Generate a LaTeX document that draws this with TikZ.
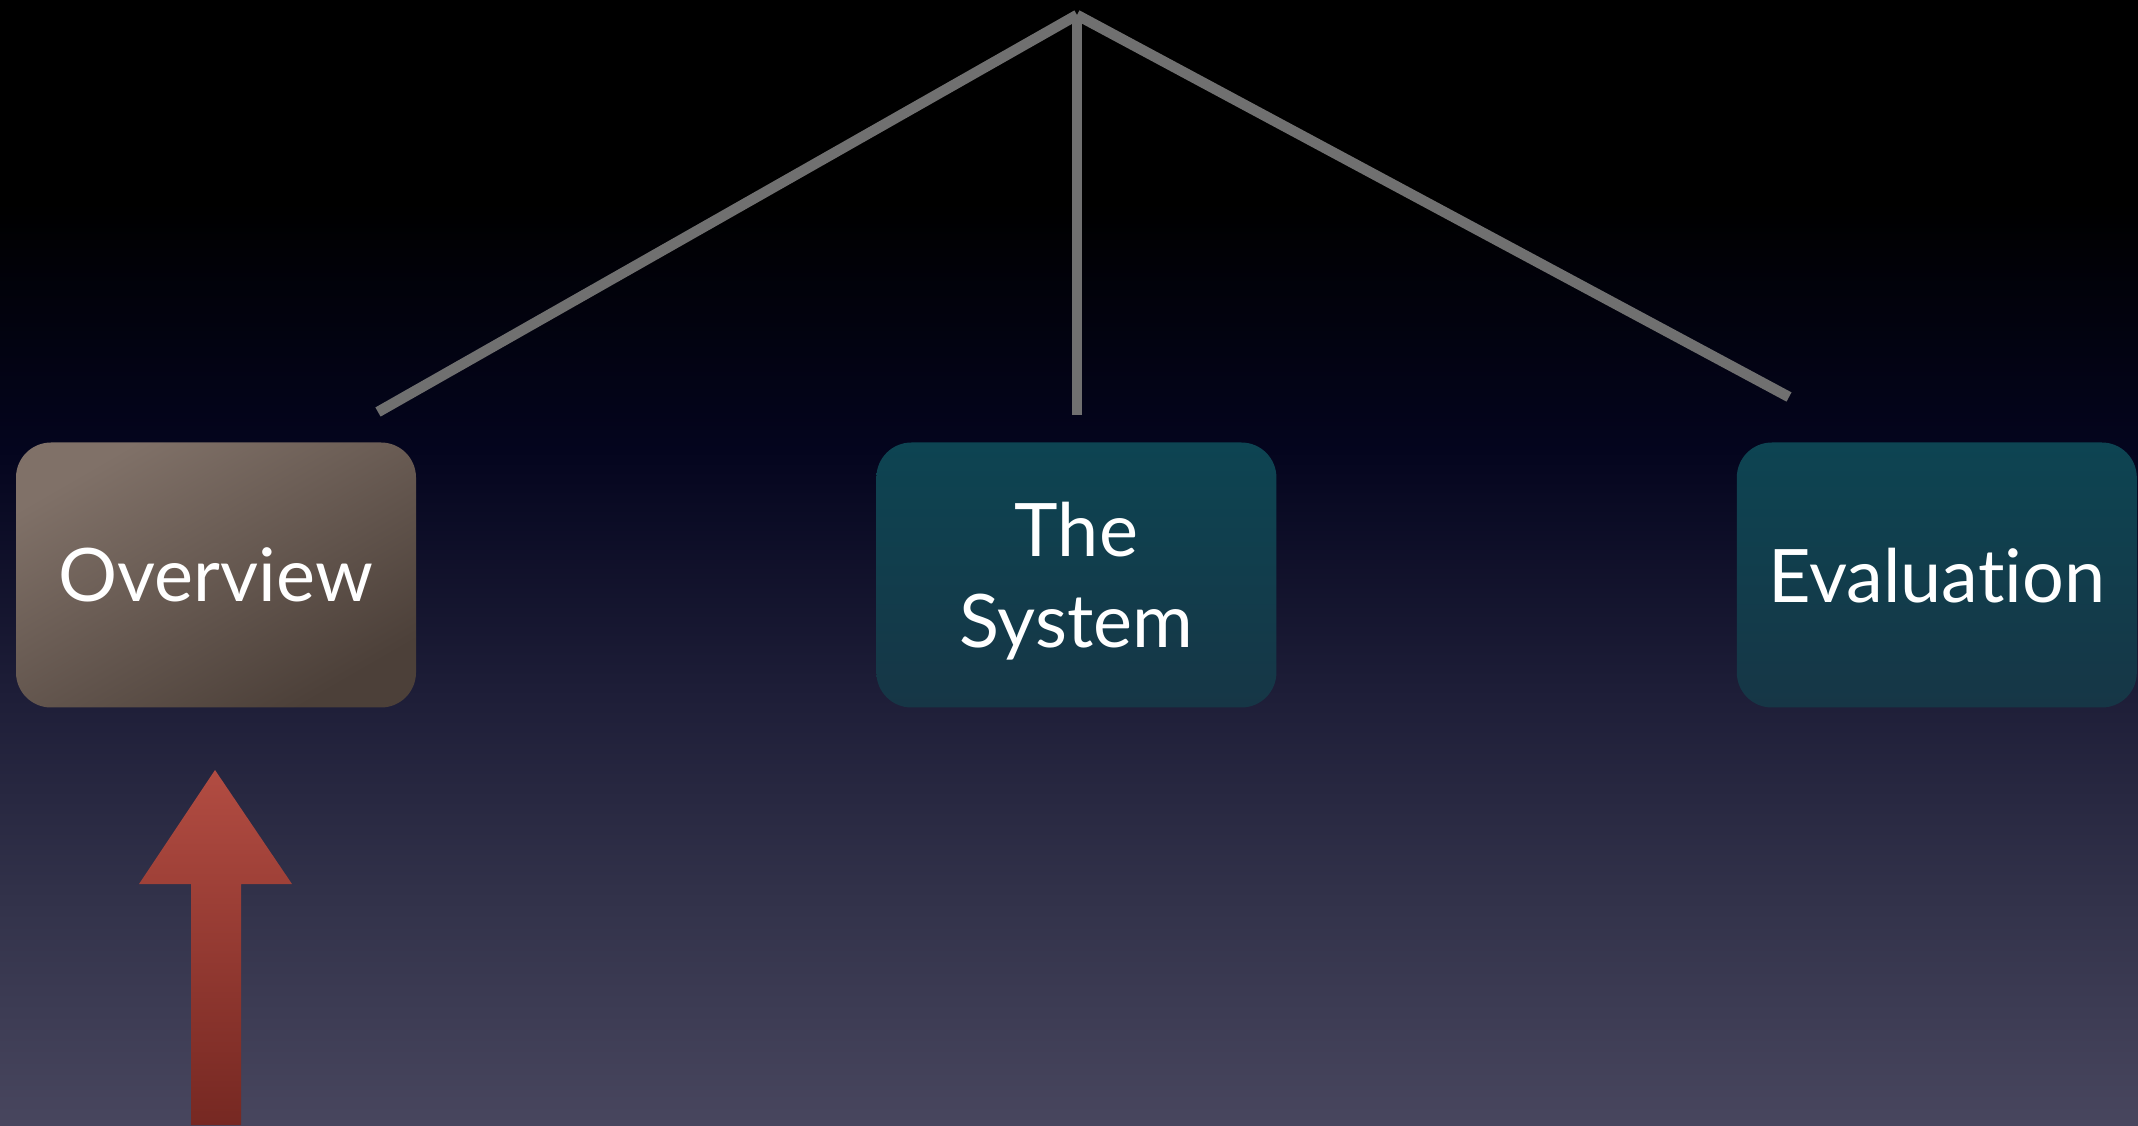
\documentclass[tikz,border=0pt]{standalone}
\usepackage{fontspec}
\setmainfont{Lato}[Ligatures=NoCommon]
\usetikzlibrary{arrows.meta, positioning, calc}

\definecolor{BgBottom}{RGB}{72, 70, 94}
\definecolor{BgLow}{RGB}{50, 50, 74}
\definecolor{BgMid}{RGB}{30, 30, 56}
\definecolor{BgDeep}{RGB}{4, 5, 30}
\definecolor{BgTop}{RGB}{0, 0, 0}
\definecolor{OverLight}{RGB}{128, 113, 104}
\definecolor{OverDark}{RGB}{76, 64, 57}
\definecolor{TealLight}{RGB}{13, 68, 82}
\definecolor{TealDark}{RGB}{22, 54, 70}
\definecolor{LinkGray}{RGB}{112, 112, 112}
\definecolor{MarkRedTop}{RGB}{178, 76, 66}
\definecolor{MarkRedBottom}{RGB}{118, 40, 34}

\pgfdeclareverticalshading{slidebg}{100bp}{color(0bp)=(BgBottom); color(25bp)=(BgBottom);
  color(35bp)=(BgLow); color(44bp)=(BgMid); color(55bp)=(BgDeep); color(66bp)=(BgTop);
  color(75bp)=(BgTop); color(100bp)=(BgTop)}

\begin{document}
\begin{tikzpicture}[
    node distance=4.59cm,
    every node/.style={font=\fontsize{21}{26}\selectfont, align=center, text=white},
    part/.style={rounded corners=0.35cm, minimum width=4.0cm, minimum height=2.65cm,
                 text depth=0pt},
    current/.style={part, top color=OverLight, bottom color=OverDark, shading angle=30},
    later/.style={part, top color=TealLight, bottom color=TealDark},
    link/.style={draw=LinkGray, line width=3pt}
]
% slide background
\shade[shading=slidebg] (0,0) rectangle (21.38,11.25);
\useasboundingbox (0,0) rectangle (21.38,11.25);

\node[current] (overview) at (2.16,5.50) {Overview};
\node[later, right=of overview] (system) {The\\System};
\node[later, right=of system] (evaluation) {Evaluation};

\coordinate (apex) at (10.77,11.10);
\coordinate (overviewEnd) at (3.78,7.13);
\coordinate (systemEnd) at (10.77,7.10);
\coordinate (evaluationEnd) at (17.89,7.28);
\draw[link] (apex) -- (overviewEnd);
\draw[link] (apex) -- (systemEnd);
\draw[link] (apex) -- (evaluationEnd);

% you-are-here arrow
\shade[top color=MarkRedTop, bottom color=MarkRedBottom]
  (2.15,3.55) -- (2.92,2.41) -- (2.41,2.41) -- (2.41,0) -- (1.91,0)
  -- (1.91,2.41) -- (1.39,2.41) -- cycle;
\end{tikzpicture}
\end{document}
